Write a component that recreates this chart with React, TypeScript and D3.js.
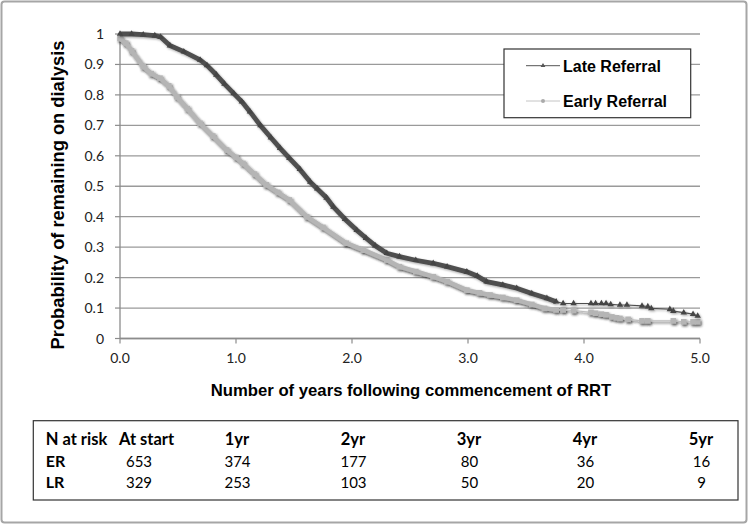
import React from "react";
import * as d3 from "d3";

const lrTime = [0, 0.1, 0.2, 0.3, 0.35, 0.43, 0.55, 0.69, 0.75, 0.83, 0.9, 0.98, 1.05, 1.12, 1.21, 1.3, 1.38, 1.46, 1.55, 1.64, 1.7, 1.78, 1.84, 1.94, 2.04, 2.12, 2.2, 2.3, 2.41, 2.55, 2.7, 2.82, 2.99, 3.08, 3.16, 3.3, 3.42, 3.55, 3.68, 3.76, 3.82, 3.91, 4.06, 4.1, 4.15, 4.19, 4.23, 4.31, 4.37, 4.5, 4.55, 4.58, 4.74, 4.77, 4.86, 4.94, 4.98];
const lrSurv = [1, 1, 0.998, 0.995, 0.99, 0.962, 0.942, 0.915, 0.897, 0.866, 0.836, 0.805, 0.778, 0.745, 0.7, 0.66, 0.625, 0.592, 0.556, 0.514, 0.492, 0.462, 0.432, 0.392, 0.356, 0.33, 0.305, 0.28, 0.269, 0.257, 0.247, 0.236, 0.219, 0.205, 0.187, 0.176, 0.165, 0.148, 0.132, 0.121, 0.115, 0.115, 0.115, 0.115, 0.115, 0.115, 0.112, 0.11, 0.11, 0.107, 0.105, 0.099, 0.096, 0.09, 0.085, 0.08, 0.074];

const erTime = [0, 0.05, 0.1, 0.2, 0.27, 0.345, 0.42, 0.49, 0.58, 0.69, 0.8, 0.92, 1.0, 1.06, 1.16, 1.26, 1.36, 1.46, 1.61, 1.75, 1.95, 2.1, 2.3, 2.41, 2.55, 2.7, 2.82, 2.99, 3.1, 3.19, 3.3, 3.42, 3.55, 3.66, 3.76, 3.82, 3.91, 4.06, 4.1, 4.15, 4.19, 4.24, 4.28, 4.31, 4.38, 4.5, 4.55, 4.77, 4.86, 4.94, 4.98];
const erSurv = [0.985, 0.97, 0.945, 0.893, 0.87, 0.855, 0.83, 0.794, 0.755, 0.707, 0.665, 0.619, 0.595, 0.575, 0.54, 0.505, 0.48, 0.455, 0.4, 0.365, 0.313, 0.29, 0.258, 0.236, 0.22, 0.203, 0.187, 0.159, 0.15, 0.143, 0.135, 0.126, 0.112, 0.099, 0.094, 0.094, 0.092, 0.086, 0.083, 0.08, 0.078, 0.071, 0.068, 0.066, 0.063, 0.058, 0.058, 0.058, 0.055, 0.055, 0.055];

const xTicks = [0, 1, 2, 3, 4, 5];
const yTicks = [0, 0.1, 0.2, 0.3, 0.4, 0.5, 0.6, 0.7, 0.8, 0.9, 1];
const seriesNames = ["Late Referral", "Early Referral"];
const tableHeader = ["At start", "1yr", "2yr", "3yr", "4yr", "5yr"];
const tableYears = [0, 1, 2, 3, 4, 5];
const erAtRisk = [653, 374, 177, 80, 36, 16];
const lrAtRisk = [329, 253, 103, 50, 20, 9];

const LR_DENSE_END = 3.77;
const ER_DENSE_END = 3.77;

export default function App() {
  const W = 749, H = 525;
  const x = d3.scaleLinear().domain([0, 5]).range([120, 700]);
  const y = d3.scaleLinear().domain([0, 1]).range([338.5, 34]);
  const line = d3.line<[number, number]>().x(d => x(d[0])).y(d => y(d[1]));
  const lr: [number, number][] = lrTime.map((t, i) => [t, lrSurv[i]]);
  const er: [number, number][] = erTime.map((t, i) => [t, erSurv[i]]);
  const lrDense = lr.filter(d => d[0] <= LR_DENSE_END);
  const erDense = er.filter(d => d[0] <= ER_DENSE_END);
  const tri = d3.symbol().type(d3.symbolTriangle).size(18)() as string;
  const sans = "'Liberation Sans', Arial, sans-serif";
  const cal = "Lato, 'Open Sans', sans-serif";
  const fmtY = (v: number) => (v === 0 || v === 1 ? String(v) : v.toFixed(1));

  return (
    <svg width={W} height={H} style={{ position: "absolute", left: 0, top: 0, background: "#fff" }}>
      <defs>
        <filter id="sh" x="-10%" y="-10%" width="120%" height="130%">
          <feDropShadow dx="1.2" dy="1.6" stdDeviation="0.9" floodColor="#222" floodOpacity="0.8" />
        </filter>
        <filter id="sh2" x="-10%" y="-10%" width="120%" height="130%">
          <feDropShadow dx="1" dy="1.2" stdDeviation="0.8" floodColor="#000" floodOpacity="0.35" />
        </filter>
      </defs>
      <rect x={1.5} y={1.5} width={745} height={521} rx={3} fill="#fff" stroke="#a6a6a6" strokeWidth={2} />

      {yTicks.map(v => (
        <line key={"g" + v} x1={x(0)} x2={x(5)} y1={y(v)} y2={y(v)} stroke="#9a9a9a" strokeWidth={1.3} />
      ))}
      <line x1={x(0)} x2={x(0)} y1={y(0)} y2={y(1)} stroke="#8c8c8c" strokeWidth={1.3} />
      <line x1={x(0)} x2={x(5)} y1={y(0)} y2={y(0)} stroke="#8c8c8c" strokeWidth={1.3} />
      {yTicks.map(v => (
        <g key={"yt" + v}>
          <line x1={x(0) - 5} x2={x(0)} y1={y(v)} y2={y(v)} stroke="#8c8c8c" strokeWidth={1.2} />
          <text x={104} y={y(v) + 5} textAnchor="end" fontFamily={cal} fontSize={14} fill="#222">{fmtY(v)}</text>
        </g>
      ))}
      {xTicks.map(v => (
        <g key={"xt" + v}>
          <line x1={x(v)} x2={x(v)} y1={y(0)} y2={y(0) + 5} stroke="#8c8c8c" strokeWidth={1.2} />
          <text x={x(v)} y={363} textAnchor="middle" fontFamily={cal} fontSize={14} fill="#222">{v.toFixed(1)}</text>
        </g>
      ))}

      <g filter="url(#sh)">
        <path d={line(er) as string} fill="none" stroke="#bdbdbd" strokeWidth={1.2} />
        <path d={line(erDense) as string} fill="none" stroke="#b5b5b5" strokeWidth={4.5} strokeLinejoin="round" />
        {er.map((d, i) => (
          <rect key={"em" + i} x={x(d[0]) - 2.8} y={y(d[1]) - 2.8} width={5.6} height={5.6} fill="#b5b5b5" />
        ))}
      </g>
      <g filter="url(#sh2)">
        <path d={line(lr) as string} fill="none" stroke="#4f4f4f" strokeWidth={1.2} />
        <path d={line(lrDense) as string} fill="none" stroke="#4f4f4f" strokeWidth={4.8} strokeLinejoin="round" />
        {lr.map((d, i) => (
          <path key={"lm" + i} d={tri} transform={`translate(${x(d[0])},${y(d[1])})`} fill="#444" />
        ))}
      </g>

      <rect x={504} y={49} width={186.7} height={68.7} fill="#fff" stroke="#333" strokeWidth={1.2} />
      <line x1={526} x2={560} y1={65.7} y2={65.7} stroke="#555" strokeWidth={1} />
      <path d={d3.symbol().type(d3.symbolTriangle).size(10)() as string} transform="translate(543,65.7)" fill="#555" />
      <text x={563} y={71.5} fontFamily={sans} fontWeight="bold" fontSize={16} fill="#000">{seriesNames[0]}</text>
      <line x1={526} x2={560} y1={101} y2={101} stroke="#c4c4c4" strokeWidth={1} />
      <circle cx={543} cy={101} r={2} fill="#aaa" />
      <text x={563} y={107} fontFamily={sans} fontWeight="bold" fontSize={16} fill="#000">{seriesNames[1]}</text>

      <text x={411} y={395.5} textAnchor="middle" fontFamily={sans} fontWeight="bold" fontSize={16.7} fill="#000">
        Number of years following commencement of RRT
      </text>
      <text transform="translate(64,195) rotate(-90)" textAnchor="middle" fontFamily={sans} fontWeight="bold" fontSize={18.3} fill="#000">
        Probability of remaining on dialysis
      </text>

      <rect x={33.3} y={420.7} width={704.7} height={79.3} fill="none" stroke="#333" strokeWidth={1.2} />
      <text x={45.7} y={444.5} fontFamily={cal} fontWeight="bold" fontSize={16.5} fill="#000">N at risk</text>
      <text x={45.7} y={466.5} fontFamily={cal} fontWeight="bold" fontSize={16} fill="#000">ER</text>
      <text x={45.7} y={487.5} fontFamily={cal} fontWeight="bold" fontSize={16} fill="#000">LR</text>
      {tableYears.map((yr, i) => (
        <g key={"tc" + i}>
          {i === 0 ? (
            <text x={x(yr) - 1} y={444.5} fontFamily={cal} fontWeight="bold" fontSize={16.5} fill="#000">{tableHeader[i]}</text>
          ) : (
            <text x={x(yr) + 1} y={444.5} textAnchor="middle" fontFamily={cal} fontWeight="bold" fontSize={16.5} fill="#000">{tableHeader[i]}</text>
          )}
          <text x={i === 0 ? x(yr) + 19 : x(yr) + 1.5} y={466.5} textAnchor="middle" fontFamily={cal} fontSize={15} fill="#000">{erAtRisk[i]}</text>
          <text x={i === 0 ? x(yr) + 19 : x(yr) + 1.5} y={487.5} textAnchor="middle" fontFamily={cal} fontSize={15} fill="#000">{lrAtRisk[i]}</text>
        </g>
      ))}
    </svg>
  );
}
